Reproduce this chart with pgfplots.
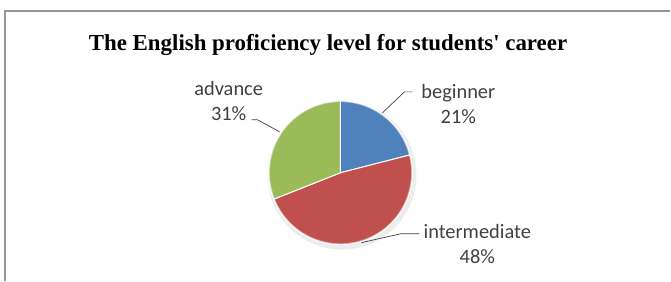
\documentclass[border=0pt]{standalone}
\usepackage{pgfplots}
\pgfplotsset{compat=1.18}
\usepackage{pgfplotstable}
\usepackage{fontspec}
\setmainfont{Liberation Serif}
\newfontfamily\titlefont{Liberation Serif}
\newfontfamily\labelfont{Carlito}
\definecolor{pieblue}{RGB}{79,129,189}
\definecolor{piered}{RGB}{192,80,77}
\definecolor{piegreen}{RGB}{155,187,89}
\definecolor{labgray}{RGB}{64,64,64}
\definecolor{framegray}{RGB}{150,150,150}

\pgfplotstableread{
label value
beginner 21
intermediate 48
advance 31
}\piedata

\begin{document}
\begin{tikzpicture}
\pgfplotstablegetelem{0}{value}\of\piedata \let\va\pgfplotsretval
\pgfplotstablegetelem{1}{value}\of\piedata \let\vb\pgfplotsretval
\pgfplotstablegetelem{2}{value}\of\piedata \let\vc\pgfplotsretval
\pgfmathsetmacro\aA{90}
\pgfmathsetmacro\aB{90-3.6*\va}
\pgfmathsetmacro\aC{\aB-3.6*\vb}
\pgfmathsetmacro\aD{\aC-3.6*\vc}
\def\cx{341}\def\cy{108}\def\rr{72}
\begin{axis}[scale only axis, width=671bp, height=281bp,
  xmin=0, xmax=671, ymin=0, ymax=281, hide axis, clip=false]
\path (axis cs:0,0) -- (axis cs:671,281);
% frame
\draw[framegray, line width=2bp] (axis cs:5,0) -- (axis cs:5,270) -- (axis cs:671,270);
% shadow
\addplot[draw=none, fill=black, fill opacity=0.07, domain=0:360, samples=90, variable=\t]
  ({\cx+1.5+(\rr+2.5)*cos(\t)},{\cy-2.5+(\rr+2.5)*sin(\t)}) -- cycle;
% slices
\addplot[fill=pieblue, draw=white, line width=1bp, domain=\aB:\aA, samples=40, variable=\t]
  ({\cx+\rr*cos(\t)},{\cy+\rr*sin(\t)}) -- (axis cs:\cx,\cy) -- cycle;
\addplot[fill=piered, draw=white, line width=1bp, domain=\aC:\aB, samples=80, variable=\t]
  ({\cx+\rr*cos(\t)},{\cy+\rr*sin(\t)}) -- (axis cs:\cx,\cy) -- cycle;
\addplot[fill=piegreen, draw=white, line width=1bp, domain=\aD:\aC, samples=60, variable=\t]
  ({\cx+\rr*cos(\t)},{\cy+\rr*sin(\t)}) -- (axis cs:\cx,\cy) -- cycle;
% rim
\addplot[draw=white, draw opacity=0.45, line width=1.6bp, domain=0:360, samples=120, variable=\t]
  ({\cx+(\rr-0.5)*cos(\t)},{\cy+(\rr-0.5)*sin(\t)}) -- cycle;
% leader lines
\addplot[labgray, line width=0.7bp] coordinates {(413,189) (405,189) (383,168)};
\addplot[labgray, line width=0.7bp] coordinates {(252,161) (258,161) (280,149)};
\addplot[labgray, line width=0.7bp] coordinates {(420,47) (402,47) (362,38)};
% labels
\node[align=center, text=labgray, font=\labelfont\fontsize{20.5}{25}\selectfont] at (axis cs:229,180) {advance\\31\%};
\node[align=center, text=labgray, font=\labelfont\fontsize{20.5}{25}\selectfont] at (axis cs:459,177) {beginner\\21\%};
\node[align=center, text=labgray, font=\labelfont\fontsize{20.5}{25}\selectfont] at (axis cs:478,37) {intermediate\\48\%};
% title
\node[font=\titlefont\bfseries\fontsize{23}{28}\selectfont] at (axis cs:328.5,236) {The English proficiency level for students' career};
\end{axis}
\end{tikzpicture}
\end{document}
